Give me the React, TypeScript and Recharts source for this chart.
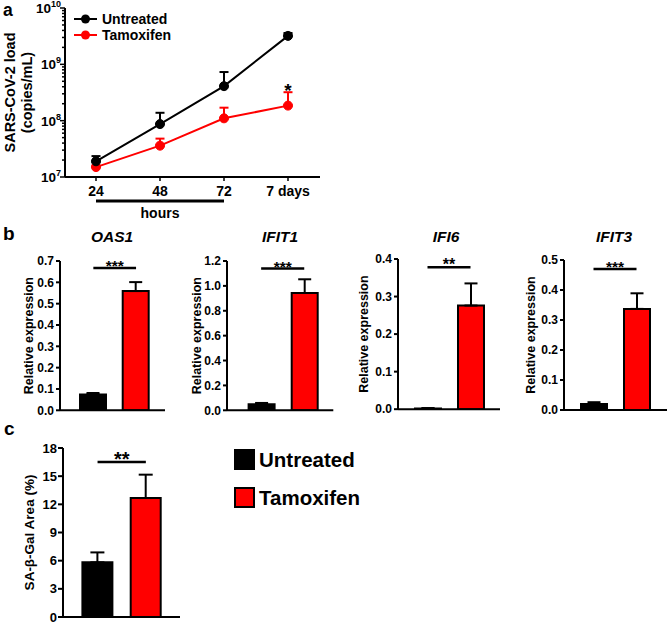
import React from 'react';
import {
  LineChart, Line, XAxis, YAxis, ErrorBar, ReferenceLine, ReferenceDot, Legend,
  BarChart, Bar, Cell,
} from 'recharts';

const FONT = '"Liberation Sans", Arial, Helvetica, sans-serif';
const RED = '#FF0000';
const BLACK = '#000000';

// ---------- Panel a data ----------
const timepoints = ['24', '48', '72', '7 days'];
const untreatedLoad = [1.9e7, 8.7e7, 4.1e8, 3.2e9];
const untreatedLoadErr = [0.45e7, 5.1e7, 3.2e8, 0.4e9];
const tamoxifenLoad = [1.5e7, 3.6e7, 1.1e8, 1.85e8];
const tamoxifenLoadErr = [0.1e7, 1.2e7, 0.6e8, 1.35e8];
const loadTicks = [
  1e7, 2e7, 3e7, 4e7, 5e7, 6e7, 7e7, 8e7, 9e7,
  1e8, 2e8, 3e8, 4e8, 5e8, 6e8, 7e8, 8e8, 9e8,
  1e9, 2e9, 3e9, 4e9, 5e9, 6e9, 7e9, 8e9, 9e9,
  1e10,
];
const loadMajorTicks = [1e7, 1e8, 1e9, 1e10];
const loadExponents = ['7', '8', '9', '10'];
const hoursBracketY = 3.75e6;
const starLoadY = 3.2e8;

const loadData = timepoints.map((t, i) => ({
  time: t,
  untreated: untreatedLoad[i],
  untreatedErr: [0, untreatedLoadErr[i]],
  tamoxifen: tamoxifenLoad[i],
  tamoxifenErr: [0, tamoxifenLoadErr[i]],
}));

// ---------- Panel b data ----------
const groups = ['Untreated', 'Tamoxifen'];
const oas1Values = [0.074, 0.559];
const oas1Err = [0.007, 0.042];
const ifit1Values = [0.048, 0.943];
const ifit1Err = [0.011, 0.11];
const ifi6Values = [0.002, 0.276];
const ifi6Err = [0.001, 0.059];
const ifit3Values = [0.02, 0.337];
const ifit3Err = [0.006, 0.052];
const oas1Ticks = [0, 0.1, 0.2, 0.3, 0.4, 0.5, 0.6, 0.7];
const ifit1Ticks = [0, 0.2, 0.4, 0.6, 0.8, 1.0, 1.2];
const ifi6Ticks = [0, 0.1, 0.2, 0.3, 0.4];
const ifit3Ticks = [0, 0.1, 0.2, 0.3, 0.4, 0.5];

// ---------- Panel c data ----------
const sagalValues = [5.82, 12.67];
const sagalErr = [1.06, 2.49];
const sagalTicks = [0, 3, 6, 9, 12, 15, 18];

const mkBarData = (vals: number[], errs: number[]) =>
  groups.map((g, i) => ({ group: g, value: vals[i], err: [0, errs[i]] }));

const barColors = [BLACK, RED];

// ---------- helpers ----------
const LogTick = (props: any) => {
  const { x, y, payload } = props;
  const v = payload.value;
  const idx = loadMajorTicks.findIndex((m) => Math.abs(m - v) / m < 1e-6);
  const major = idx >= 0;
  return (
    <g>
      <line x1={x - (major ? 5 : 3)} y1={y} x2={x} y2={y} stroke={BLACK} strokeWidth={1.5} />
      {major && (
        <text
          x={x - 4}
          y={y + 5}
          textAnchor="end"
          fontFamily={FONT}
          fontWeight={700}
          fontSize={13.5}
          fill={BLACK}
        >
          <tspan>10</tspan>
          <tspan dy={-6} fontSize={9}>{loadExponents[idx]}</tspan>
        </text>
      )}
    </g>
  );
};

const rotatedLabel = (text: string, fromRight: number, size: number) => (props: any) => {
  const vb = props.viewBox;
  const cx = vb.x + vb.width - fromRight;
  const cy = vb.y + vb.height / 2;
  return (
    <text
      x={cx}
      y={cy}
      transform={`rotate(-90, ${cx}, ${cy})`}
      textAnchor="middle"
      dominantBaseline="central"
      fontFamily={FONT}
      fontWeight={700}
      fontSize={size}
      fill={BLACK}
    >
      {text}
    </text>
  );
};

const starLabel = (stars: string, size: number, dy: number) => (props: any) => {
  const vb = props.viewBox;
  const cx = vb.x + (vb.width || 0) / 2;
  return (
    <text
      x={cx}
      y={vb.y + dy}
      textAnchor="middle"
      fontFamily={FONT}
      fontWeight={700}
      fontSize={size}
      fill={BLACK}
    >
      {stars}
    </text>
  );
};

const LoadLegend = () => {
  const items = [
    { name: 'Untreated', color: BLACK },
    { name: 'Tamoxifen', color: RED },
  ];
  return (
    <svg width={130} height={36}>
      {items.map((it, i) => {
        const cy = 9 + i * 16;
        return (
          <g key={it.name}>
            <line x1={2} y1={cy} x2={25} y2={cy} stroke={it.color} strokeWidth={2} />
            <circle cx={13.5} cy={cy} r={4.5} fill={it.color} />
            <text
              x={30}
              y={cy}
              dominantBaseline="central"
              fontFamily={FONT}
              fontWeight={700}
              fontSize={14}
              fill={BLACK}
            >
              {it.name}
            </text>
          </g>
        );
      })}
    </svg>
  );
};

const SquareLegend = () => (
  <svg width={170} height={62}>
    <rect x={2} y={1} width={21} height={21} fill={BLACK} />
    <text x={27} y={11.5} dominantBaseline="central" fontFamily={FONT} fontWeight={700} fontSize={20.5} fill={BLACK}>
      {groups[0]}
    </text>
    <rect x={3} y={40} width={19} height={19} fill={RED} stroke={BLACK} strokeWidth={2} />
    <text x={27} y={49.5} dominantBaseline="central" fontFamily={FONT} fontWeight={700} fontSize={20.5} fill={BLACK}>
      {groups[1]}
    </text>
  </svg>
);

type PanelProps = {
  data: any[];
  domain: [number, number];
  ticks: number[];
  digits: number;
  plotLeft: number;
  plotTop: number;
  plotRight: number;
  plotBottom: number;
  padL: number;
  padR: number;
  sig: number;
  stars: string;
  starSize: number;
  starDy: number;
  barSize: number;
  cap: number;
  yLabel: string;
  yLabelSize: number;
  yLabelFromAxis: number;
  tickFont: number;
  tickSize: number;
  tickMargin: number;
  extraRight?: number;
  legend?: boolean;
};

const BarPanel = (p: PanelProps) => {
  const axisW = 60;
  const mt = 20;
  const xH = 4;
  const mb = 4;
  const mr = 4 + (p.extraRight || 0);
  const plotW = p.plotRight - p.plotLeft;
  const plotH = p.plotBottom - p.plotTop;
  const W = axisW + plotW + mr;
  const H = mt + plotH + xH + mb;
  return (
    <div style={{ position: 'absolute', left: p.plotLeft - axisW, top: p.plotTop - mt, width: W, height: H }}>
      <BarChart width={W} height={H} data={p.data} margin={{ top: mt, right: mr, bottom: mb, left: 0 }}>
        <XAxis
          dataKey="group"
          tick={false}
          tickLine={false}
          height={xH}
          padding={{ left: p.padL, right: p.padR }}
          axisLine={{ stroke: BLACK, strokeWidth: 2 }}
        />
        <YAxis
          type="number"
          domain={p.domain}
          ticks={p.ticks}
          interval={0}
          allowDataOverflow
          width={axisW}
          tickFormatter={(v: number) => v.toFixed(p.digits)}
          tick={{ fill: BLACK, fontSize: p.tickFont, fontWeight: 700, fontFamily: FONT }}
          tickSize={p.tickSize}
          tickMargin={p.tickMargin}
          axisLine={{ stroke: BLACK, strokeWidth: 2 }}
          tickLine={{ stroke: BLACK, strokeWidth: 2 }}
          label={rotatedLabel(p.yLabel, p.yLabelFromAxis, p.yLabelSize)}
        />
        <Bar dataKey="value" barSize={p.barSize} stroke={BLACK} strokeWidth={2} isAnimationActive={false}>
          {p.data.map((d, i) => (
            <Cell key={d.group} fill={barColors[i]} />
          ))}
          <ErrorBar dataKey="err" width={p.cap} stroke={BLACK} strokeWidth={2} direction="y" />
        </Bar>
        <ReferenceLine
          segment={[
            { x: groups[0], y: p.sig },
            { x: groups[1], y: p.sig },
          ]}
          stroke={BLACK}
          strokeWidth={2.5}
          ifOverflow="visible"
          label={starLabel(p.stars, p.starSize, p.starDy)}
        />
        {p.legend && (
          <Legend
            layout="horizontal"
            verticalAlign="middle"
            align="center"
            content={() => <SquareLegend />}
            wrapperStyle={{ position: 'absolute', left: 232 - (p.plotLeft - axisW), top: 448 - (p.plotTop - mt), width: 170, height: 62 }}
          />
        )}
      </BarChart>
    </div>
  );
};

const titleStyle = (cx: number, cy: number): React.CSSProperties => ({
  position: 'absolute',
  left: cx - 60,
  top: cy - 10,
  width: 120,
  height: 20,
  lineHeight: '20px',
  textAlign: 'center',
  fontFamily: FONT,
  fontWeight: 700,
  fontStyle: 'italic',
  fontSize: 15.5,
  color: BLACK,
});

const panelLetters = [
  { letter: 'a', x: 3, y: 16, size: 17.5 },
  { letter: 'b', x: 3, y: 240, size: 19 },
  { letter: 'c', x: 4, y: 435, size: 19 },
];

export default function App() {
  return (
    <div style={{ position: 'absolute', left: 0, top: 0, width: 668, height: 624, background: '#fff', overflow: 'hidden' }}>
      {/* Panel a */}
      <div style={{ position: 'absolute', left: 0, top: 0, width: 340, height: 230 }}>
        <LineChart width={340} height={230} data={loadData} margin={{ top: 8, right: 20, bottom: 0, left: 0 }}>
          <XAxis
            dataKey="time"
            height={53}
            padding={{ left: 31, right: 32 }}
            interval={0}
            tick={{ fill: BLACK, fontSize: 14, fontWeight: 700, fontFamily: FONT }}
            tickSize={4}
            tickMargin={5}
            axisLine={{ stroke: BLACK, strokeWidth: 2 }}
            tickLine={{ stroke: BLACK, strokeWidth: 1.5 }}
          />
          <YAxis
            type="number"
            scale="log"
            domain={[1e7, 1e10]}
            ticks={loadTicks}
            interval={0}
            allowDataOverflow
            width={65}
            tickSize={0}
            tickMargin={0}
            tickLine={false}
            tick={<LogTick />}
            axisLine={{ stroke: BLACK, strokeWidth: 2 }}
            label={(props: any) => {
              const vb = props.viewBox;
              const cy = vb.y + vb.height / 2;
              return (
                <g>
                  <text x={10} y={cy} transform={`rotate(-90, 10, ${cy})`} textAnchor="middle" dominantBaseline="central" fontFamily={FONT} fontWeight={700} fontSize={14.5} fill={BLACK}>
                    SARS-CoV-2 load
                  </text>
                  <text x={27} y={cy} transform={`rotate(-90, 27, ${cy})`} textAnchor="middle" dominantBaseline="central" fontFamily={FONT} fontWeight={700} fontSize={14.5} fill={BLACK}>
                    (copies/mL)
                  </text>
                </g>
              );
            }}
          />
          <Line
            dataKey="tamoxifen"
            name="Tamoxifen"
            stroke={RED}
            strokeWidth={2}
            dot={{ r: 4.5, fill: RED, stroke: RED, strokeWidth: 1 }}
            isAnimationActive={false}
          >
            <ErrorBar dataKey="tamoxifenErr" width={4.5} stroke={RED} strokeWidth={2} direction="y" />
          </Line>
          <Line
            dataKey="untreated"
            name="Untreated"
            stroke={BLACK}
            strokeWidth={2}
            dot={{ r: 4.5, fill: BLACK, stroke: BLACK, strokeWidth: 1 }}
            isAnimationActive={false}
          >
            <ErrorBar dataKey="untreatedErr" width={4.5} stroke={BLACK} strokeWidth={2} direction="y" />
          </Line>
          <ReferenceDot
            x={timepoints[3]}
            y={starLoadY}
            r={0}
            fill="none"
            stroke="none"
            ifOverflow="visible"
            label={starLabel('*', 19, 5)}
          />
          <ReferenceLine
            segment={[
              { x: timepoints[0], y: hoursBracketY },
              { x: timepoints[2], y: hoursBracketY },
            ]}
            stroke={BLACK}
            strokeWidth={3}
            ifOverflow="visible"
            label={{ value: 'hours', position: 'bottom', offset: 7, fill: BLACK, fontSize: 14, fontWeight: 700, fontFamily: FONT }}
          />
          <Legend
            layout="horizontal"
            verticalAlign="middle"
            align="center"
            content={() => <LoadLegend />}
            wrapperStyle={{ position: 'absolute', left: 72, top: 10, width: 130, height: 36 }}
          />
        </LineChart>
      </div>

      {/* Panel titles */}
      <div style={titleStyle(112, 237)}>OAS1</div>
      <div style={titleStyle(280, 237)}>IFIT1</div>
      <div style={titleStyle(446, 237)}>IFI6</div>
      <div style={titleStyle(614, 237)}>IFIT3</div>

      {/* Panel b */}
      <BarPanel
        data={mkBarData(oas1Values, oas1Err)}
        domain={[0, 0.7]}
        ticks={oas1Ticks}
        digits={1}
        plotLeft={60}
        plotTop={260.7}
        plotRight={165}
        plotBottom={410}
        padL={12}
        padR={7.6}
        sig={0.667}
        stars="***"
        starSize={15.5}
        starDy={3}
        barSize={26}
        cap={6.5}
        yLabel="Relative expression"
        yLabelSize={12.5}
        yLabelFromAxis={31}
        tickFont={12}
        tickSize={4}
        tickMargin={2}
      />
      <BarPanel
        data={mkBarData(ifit1Values, ifit1Err)}
        domain={[0, 1.2]}
        ticks={ifit1Ticks}
        digits={1}
        plotLeft={226.7}
        plotTop={260.7}
        plotRight={333}
        plotBottom={410}
        padL={12.6}
        padR={7.5}
        sig={1.139}
        stars="***"
        starSize={15.5}
        starDy={3}
        barSize={26}
        cap={6.5}
        yLabel="Relative expression"
        yLabelSize={12.5}
        yLabelFromAxis={30}
        tickFont={12}
        tickSize={4}
        tickMargin={2}
      />
      <BarPanel
        data={mkBarData(ifi6Values, ifi6Err)}
        domain={[0, 0.4]}
        ticks={ifi6Ticks}
        digits={1}
        plotLeft={398}
        plotTop={259.3}
        plotRight={500}
        plotBottom={409.5}
        padL={8}
        padR={8}
        sig={0.378}
        stars="**"
        starSize={16}
        starDy={3}
        barSize={26}
        cap={6.5}
        yLabel="Relative expression"
        yLabelSize={12.5}
        yLabelFromAxis={33.5}
        tickFont={12}
        tickSize={4}
        tickMargin={2}
      />
      <BarPanel
        data={mkBarData(ifit3Values, ifit3Err)}
        domain={[0, 0.5]}
        ticks={ifit3Ticks}
        digits={1}
        plotLeft={564}
        plotTop={260}
        plotRight={667}
        plotBottom={410}
        padL={8}
        padR={9}
        sig={0.47}
        stars="***"
        starSize={15.5}
        starDy={3}
        barSize={26}
        cap={6.5}
        yLabel="Relative expression"
        yLabelSize={12.5}
        yLabelFromAxis={33.5}
        tickFont={12}
        tickSize={4}
        tickMargin={2}
      />

      {/* Panel c */}
      <BarPanel
        data={mkBarData(sagalValues, sagalErr)}
        domain={[0, 18]}
        ticks={sagalTicks}
        digits={0}
        plotLeft={63}
        plotTop={448.3}
        plotRight={180}
        plotBottom={617.3}
        padL={10.4}
        padR={10}
        sig={16.51}
        stars="**"
        starSize={20}
        starDy={4}
        barSize={30}
        cap={7}
        yLabel="SA-β-Gal Area (%)"
        yLabelSize={13.5}
        yLabelFromAxis={34}
        tickFont={13}
        tickSize={5}
        tickMargin={1}
        extraRight={240}
        legend
      />

      {/* Panel letters */}
      <svg width={668} height={624} style={{ position: 'absolute', left: 0, top: 0, pointerEvents: 'none' }}>
        {panelLetters.map((p) => (
          <text key={p.letter} x={p.x} y={p.y} fontFamily={FONT} fontWeight={700} fontSize={p.size} fill={BLACK}>
            {p.letter}
          </text>
        ))}
      </svg>
    </div>
  );
}
